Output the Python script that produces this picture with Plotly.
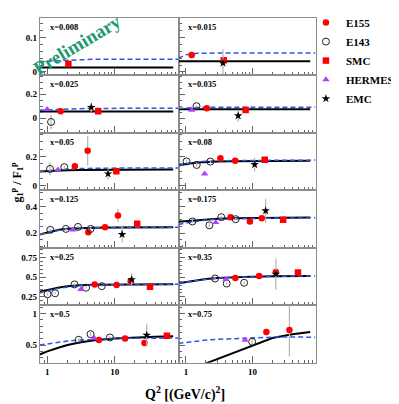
import plotly.graph_objects as go

# ---------------------------------------------------------------------------
# Data; panel index 0..11 -> row = i // 2, col = i % 2
# ---------------------------------------------------------------------------

X_BINS = ["0.008", "0.015", "0.025", "0.035", "0.05", "0.08",
          "0.125", "0.175", "0.25", "0.35", "0.5", "0.75"]

ROW_YRANGE = [[-0.01, 0.157], [-0.125, 0.36], [-0.03, 0.36],
              [0.09, 0.52], [0.144, 0.875], [0.22, 1.13]]
ROW_YTICKS = [[0, 0.1], [0, 0.2], [0, 0.2], [0.2, 0.4], [0.25, 0.5, 0.75], [0.5, 1]]
ROW_YTEXT = [["0", "0.1"], ["0", "0.2"], ["0", "0.2"], ["0.2", "0.4"],
             ["0.25", "0.5", "0.75"], ["0.5", "1"]]
ROW_YMINOR = [0.02, 0.05, 0.05, 0.05, 0.05, 0.1]

X_TICKS = [1, 10]
X_MINOR = [0.8, 0.9, 2, 3, 4, 5, 6, 7, 8, 9, 20, 30, 40, 50, 60, 70, 80]

# E155
E155_Q2 = [[], [1.22], [1.58], [2.06], [2.57, 3.98], [3.3, 5.5],
           [4.07, 7.2, 11.2], [4.7, 9.15, 13.8], [5.06, 10.7, 17.3],
           [5.53, 12.6, 22.5], [5.84, 14.3, 27.7], [16.2, 36]]
E155_G = [[], [0.049], [0.058], [0.083], [0.133, 0.238], [0.187, 0.171],
          [0.207, 0.244, 0.331], [0.319, 0.287, 0.311], [0.409, 0.4, 0.454],
          [0.49, 0.516, 0.566], [0.578, 0.604, 0.531], [0.708, 0.739]]
E155_ERR = [[], [0.005], [0.006], [0.006], [0.01, 0.1], [0.01, 0.01],
            [0.01, 0.01, 0.05], [0.01, 0.01, 0.015], [0.01, 0.01, 0.02],
            [0.015, 0.015, 0.03], [0.015, 0.015, 0.02], [0.05, 0.42]]

# E143
E143_Q2 = [[], [], [1.14], [1.44], [1.1, 1.79], [1.02, 1.45, 2.33],
           [1.11, 1.89, 2.86, 4.4], [1.25, 2.25, 3.4, 5.6],
           [1.01, 1.31, 2.54, 3.77, 6.45], [2.74, 4.1, 7.5],
           [2.93, 4.39, 8.5], [9.9]]
E143_G = [[], [], [-0.033], [0.10], [0.115, 0.127], [0.166, 0.142, 0.165],
          [0.224, 0.231, 0.246, 0.231], [0.287, 0.258, 0.319, 0.304],
          [0.284, 0.296, 0.409, 0.367, 0.387], [0.484, 0.42, 0.43],
          [0.583, 0.672, 0.62], [0.552]]
E143_ERR = [[], [], [0.06], [0.008], [0.045, 0.01], [0.01, 0.01, 0.01],
            [0.01, 0.01, 0.01, 0.01], [0.01, 0.015, 0.01, 0.01],
            [0.015, 0.015, 0.015, 0.01, 0.01], [0.015, 0.015, 0.015],
            [0.02, 0.03, 0.02], [0.05]]

# SMC
SMC_Q2 = [[2.06], [3.7], [5.7], [7.9], [10.6], [15.3], [21.6], [29],
          [33.5], [48.4], [59.7], []]
SMC_G = [[0.023], [0.034], [0.058], [0.067], [0.10], [0.178], [0.27], [0.30],
         [0.379], [0.559], [0.645], []]
SMC_ERR = [[0.005], [0.006], [0.006], [0.008], [0.01], [0.01], [0.02], [0.02],
           [0.02], [0.02], [0.03], []]

# HERMES
HERMES_Q2 = [[], [], [1.0], [1.22], [1.44], [1.91], [2.4], [2.8], [3.16],
             [3.98], [4.96], [7.77]]
HERMES_G = [[], [], [0.075], [0.067], [0.109], [0.082], [0.224], [0.28],
            [0.346], [0.475], [0.61], [0.578]]

# EMC
EMC_Q2 = [[], [3.6], [4.5], [6.1], [8.0], [10.8], [12.9], [15.8], [17.9],
          [22.5], [29.9], []]
EMC_G = [[], [0.026], [0.09], [0.019], [0.082], [0.145], [0.19], [0.367],
         [0.471], [0.54], [0.656], []]
EMC_ERR = [[], [0.04], [0.04], [0.05], [0.04], [0.045], [0.06], [0.09],
           [0.08], [0.2], [0.18], []]

# model curves
SOLID_Q2 = [0.77, 1, 1.5, 2, 3, 5, 10, 20, 40, 74]
DASH_Q2 = [0.77, 1, 1.5, 2, 3, 5, 10, 20, 40, 88]

SOLID_G = [
    [0.013, 0.013, 0.013, 0.013, 0.013, 0.013, 0.013, 0.013, 0.013, 0.013],
    [0.031, 0.031, 0.031, 0.031, 0.031, 0.031, 0.031, 0.031, 0.031, 0.031],
    [0.056, 0.056, 0.056, 0.056, 0.056, 0.056, 0.056, 0.056, 0.056, 0.056],
    [0.075, 0.075, 0.075, 0.075, 0.075, 0.075, 0.075, 0.075, 0.075, 0.075],
    [0.098, 0.101, 0.104, 0.106, 0.108, 0.109, 0.110, 0.110, 0.111, 0.111],
    [0.138, 0.148, 0.158, 0.163, 0.166, 0.168, 0.169, 0.170, 0.170, 0.170],
    [0.190, 0.205, 0.225, 0.233, 0.238, 0.240, 0.242, 0.243, 0.244, 0.244],
    [0.285, 0.290, 0.297, 0.302, 0.307, 0.310, 0.312, 0.314, 0.315, 0.316],
    [0.316, 0.340, 0.370, 0.385, 0.398, 0.404, 0.408, 0.410, 0.411, 0.412],
    [0.425, 0.440, 0.465, 0.478, 0.490, 0.500, 0.508, 0.512, 0.515, 0.516],
    [0.350, 0.400, 0.460, 0.500, 0.540, 0.575, 0.603, 0.620, 0.632, 0.638],
    [None, None, None, 0.210, 0.280, 0.380, 0.500, 0.610, 0.670, 0.705],
]
DASH_G = [
    [0.030, 0.031, 0.033, 0.035, 0.036, 0.037, 0.037, 0.037, 0.037, 0.037],
    [0.040, 0.050, 0.054, 0.055, 0.055, 0.055, 0.055, 0.055, 0.055, 0.055],
    [0.067, 0.070, 0.074, 0.077, 0.079, 0.081, 0.082, 0.083, 0.083, 0.083],
    [0.080, 0.085, 0.089, 0.091, 0.092, 0.092, 0.092, 0.092, 0.092, 0.092],
    [0.098, 0.103, 0.110, 0.114, 0.118, 0.120, 0.121, 0.122, 0.122, 0.122],
    [0.138, 0.150, 0.162, 0.168, 0.171, 0.172, 0.173, 0.174, 0.175, 0.175],
    [0.190, 0.205, 0.222, 0.230, 0.236, 0.239, 0.241, 0.242, 0.243, 0.243],
    [0.265, 0.275, 0.290, 0.298, 0.305, 0.308, 0.311, 0.312, 0.313, 0.314],
    [0.300, 0.330, 0.360, 0.378, 0.395, 0.403, 0.408, 0.410, 0.411, 0.412],
    [0.420, 0.440, 0.460, 0.475, 0.488, 0.500, 0.508, 0.512, 0.515, 0.516],
    [0.500, 0.520, 0.548, 0.563, 0.578, 0.592, 0.603, 0.608, 0.610, 0.610],
    [0.527, 0.543, 0.565, 0.578, 0.590, 0.600, 0.612, 0.625, 0.628, 0.622],
]

# ---------------------------------------------------------------------------
# Layout geometry. Positions are screen pixels of the 399x404 window; the page
# body keeps its default 8px margin, so the figure is 8px smaller on each axis
# and every position is shifted by that margin.
# ---------------------------------------------------------------------------
PAGE_MARGIN = 8
W, H = 399 - PAGE_MARGIN, 404 - PAGE_MARGIN
COL_EDGES = [41, 185, 327]
ROW_EDGES = [13, 71.5, 130, 188.5, 247, 305.5, 364]
FONT = "Liberation Serif, Times New Roman, serif"


def px_x(p):
    return (p - PAGE_MARGIN) / W


def px_y(p):
    return 1 - (p - PAGE_MARGIN) / H


fig = go.Figure()

SERIES = [
    ("E155", E155_Q2, E155_G, E155_ERR,
     dict(symbol="circle", size=6.5, color="#ff0000")),
    ("E143", E143_Q2, E143_G, E143_ERR,
     dict(symbol="circle-open", size=7, color="#222222", line=dict(width=1))),
    ("SMC", SMC_Q2, SMC_G, SMC_ERR,
     dict(symbol="square", size=6.5, color="#ff0000")),
    ("HERMES", HERMES_Q2, HERMES_G, None,
     dict(symbol="triangle-up", size=6.5, color="#b040ff")),
    ("EMC", EMC_Q2, EMC_G, EMC_ERR,
     dict(symbol="star", size=6.5, color="#000000")),
]

for i in range(12):
    k = i + 1
    xa = "x" if k == 1 else f"x{k}"
    ya = "y" if k == 1 else f"y{k}"

    fig.add_scatter(x=SOLID_Q2, y=SOLID_G[i], mode="lines", xaxis=xa, yaxis=ya,
                    line=dict(color="black", width=2), showlegend=False,
                    hoverinfo="skip", connectgaps=False)
    fig.add_scatter(x=DASH_Q2, y=DASH_G[i], mode="lines", xaxis=xa, yaxis=ya,
                    line=dict(color="#2f55e6", width=1.5, dash="5px,3px"),
                    showlegend=False, hoverinfo="skip")

    for name, qs, gs, errs, marker in SERIES:
        if not qs[i]:
            continue
        err = None
        if errs is not None:
            err = dict(type="data", array=errs[i], color="#b5b5b5",
                       thickness=1.2, width=0)
        fig.add_scatter(x=qs[i], y=gs[i], mode="markers", xaxis=xa, yaxis=ya,
                        marker=marker, error_y=err, name=name,
                        legendgroup=name, showlegend=False)

# legend entries (one per dataset)
for name, qs, gs, errs, marker in SERIES:
    fig.add_scatter(x=[None], y=[None], mode="markers", marker=marker,
                    name=name, legendgroup=name, showlegend=True)

axis_common = dict(showline=True, linecolor="#8c8c8c", linewidth=1, mirror=True,
                   ticks="inside", tickcolor="#666666", showgrid=False,
                   zeroline=False,
                   tickfont=dict(family=FONT, size=9, color="black", weight="bold"))

annotations = []
for i in range(12):
    r, c = divmod(i, 2)
    k = i + 1
    xkey = "xaxis" if k == 1 else f"xaxis{k}"
    ykey = "yaxis" if k == 1 else f"yaxis{k}"
    xa = "x" if k == 1 else f"x{k}"
    ya = "y" if k == 1 else f"y{k}"
    x0, x1 = COL_EDGES[c], COL_EDGES[c + 1]
    y0, y1 = ROW_EDGES[r], ROW_EDGES[r + 1]

    fig.layout[xkey] = dict(
        axis_common, type="log", range=[-0.11, 1.95], anchor=ya,
        domain=[px_x(x0), px_x(x1)],
        tickmode="array", tickvals=X_TICKS, ticktext=["1", "10"],
        ticklen=7, showticklabels=(r == 5),
        minor=dict(tickmode="array", tickvals=X_MINOR, ticks="inside",
                   ticklen=3, tickcolor="#666666"),
    )
    fig.layout[ykey] = dict(
        axis_common, range=ROW_YRANGE[r], anchor=xa,
        domain=[px_y(y1), px_y(y0)],
        tickmode="array", tickvals=ROW_YTICKS[r], ticktext=ROW_YTEXT[r],
        ticklen=6, showticklabels=(c == 0),
        minor=dict(dtick=ROW_YMINOR[r], ticks="inside", ticklen=3,
                   tickcolor="#666666"),
    )

    annotations.append(dict(
        text="x=" + X_BINS[i], xref="paper", yref="paper",
        x=px_x(x0 + 8), y=px_y(y0 + 9), xanchor="left", yanchor="middle",
        showarrow=False, font=dict(family=FONT, size=8.5, color="black",
                                   weight="bold")))

annotations += [
    dict(text="Preliminary", xref="paper", yref="paper",
         x=px_x(80), y=px_y(40), xanchor="center", yanchor="middle",
         showarrow=False, textangle=-31,
         font=dict(family=FONT, size=19, color="#1f9a6c", weight="bold")),
    dict(text="g<sub>1</sub><sup>p</sup> / F<sub>1</sub><sup>p</sup>",
         xref="paper", yref="paper", x=px_x(18), y=px_y(180),
         xanchor="center", yanchor="middle",
         showarrow=False, textangle=-90,
         font=dict(family=FONT, size=12, color="black", weight="bold")),
    dict(text="Q<sup>2</sup> [(GeV/c)<sup>2</sup>]", xref="paper",
         yref="paper", x=px_x(192), y=px_y(395), xanchor="center",
         yanchor="middle", showarrow=False,
         font=dict(family=FONT, size=14, color="black", weight="bold")),
]

fig.update_layout(
    width=W, height=H,
    margin=dict(l=0, r=0, t=0, b=0),
    paper_bgcolor="white", plot_bgcolor="white",
    annotations=annotations,
    showlegend=True,
    legend=dict(x=px_x(317), y=px_y(3), xanchor="left", yanchor="top",
                bgcolor="rgba(0,0,0,0)", itemwidth=30, tracegroupgap=0,
                font=dict(family=FONT, size=11, color="black", weight="bold")),
)

fig.write_html("out.html")
